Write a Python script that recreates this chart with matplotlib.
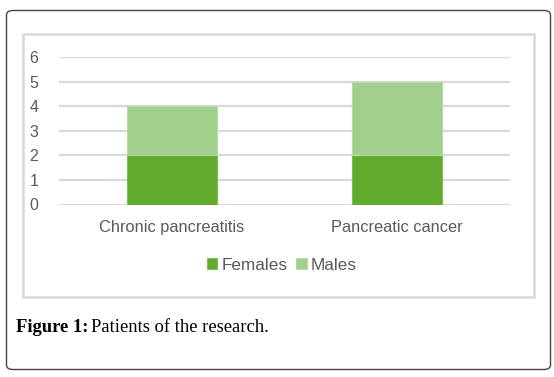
import matplotlib.pyplot as plt
from matplotlib.patches import FancyBboxPatch, Rectangle

categories = ["Chronic pancreatitis", "Pancreatic cancer"]
females = [2, 2]
males = [2, 3]
yticks = [0, 1, 2, 3, 4, 5, 6]

W, H = 554, 377
fig = plt.figure(figsize=(W / 100, H / 100), dpi=100)
fig.patch.set_facecolor("white")

# outer rounded frame and inner chart frame
fig.patches.append(FancyBboxPatch((6.5 / W, 1 - 369.5 / H), 544 / W, 359 / H,
                                  boxstyle="round,pad=0,rounding_size=0.012",
                                  transform=fig.transFigure, fill=False,
                                  edgecolor="#444444", linewidth=1.0))
fig.patches.append(Rectangle((22.5 / W, 1 - 296.5 / H), 511 / W, 263 / H,
                             transform=fig.transFigure, fill=False,
                             edgecolor="#d9d9d9", linewidth=1.8))

ax = fig.add_axes([59 / W, 1 - 204.5 / H, 451 / W, 147.5 / H])
x = range(len(categories))
ax.bar(x, females, width=0.4, color="#62aa2e", edgecolor="#7cbf55",
       linewidth=0.8, label="Females", zorder=3)
ax.bar(x, males, width=0.4, bottom=females, color="#a0d08c",
       edgecolor="#b6dca6", linewidth=0.8, label="Males", zorder=3)

ax.set_xlim(-0.5, 1.5)
ax.set_ylim(0, 6)
ax.set_yticks(yticks)
ax.set_xticks(list(x))
ax.set_xticklabels(categories)
ax.grid(axis="y", color="#d9d9d9", linewidth=1.6, zorder=0)
for s in ax.spines.values():
    s.set_visible(False)
ax.tick_params(length=0, labelcolor="#595959")
ax.tick_params(axis="y", pad=15)
ax.tick_params(axis="x", pad=11)
for t in ax.get_xticklabels():
    t.set_fontfamily("Liberation Sans")
    t.set_fontsize(11.8)
for t in ax.get_yticklabels():
    t.set_fontfamily("Liberation Sans")
    t.set_fontsize(11.5)

leg = ax.legend(loc="center", bbox_to_anchor=(282 / W, 1 - 265 / H),
                bbox_transform=fig.transFigure, ncol=2, frameon=False,
                handlelength=0.6, handleheight=0.6, handletextpad=0.25,
                columnspacing=0.5, prop={"family": "Liberation Sans", "size": 12.3})
for t in leg.get_texts():
    t.set_color("#595959")

cap1 = fig.text(16 / W, 1 - 327.5 / H, "Figure 1:", fontsize=13.4, va="center",
                ha="left", family="Liberation Serif", fontweight="bold")
fig.canvas.draw()
bb = cap1.get_window_extent()
fig.text((bb.x1 + 3) / W, 1 - 327.5 / H, "Patients of the research.", fontsize=13.4,
         va="center", ha="left", family="Liberation Serif")

fig.savefig("out.png", dpi=100)
